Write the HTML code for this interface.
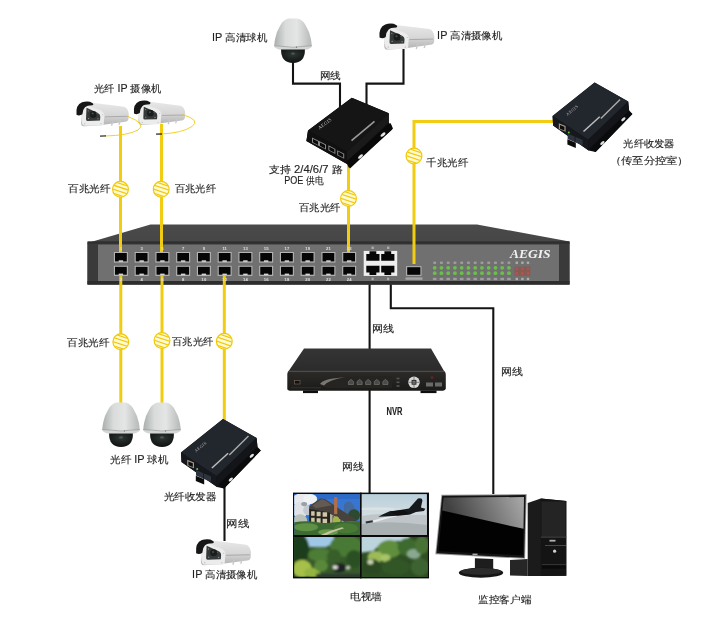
<!DOCTYPE html><html><head><meta charset="utf-8"><style>html,body{margin:0;padding:0;background:#fff;width:704px;height:618px;overflow:hidden}svg{display:block;font-family:"Liberation Sans",sans-serif;filter:blur(0.35px)}</style></head><body>
<svg width="704" height="618" viewBox="0 0 704 618">
<defs>
<linearGradient id="domeG" x1="0" y1="0" x2="1" y2="0"><stop offset="0" stop-color="#a9aead"/><stop offset="0.3" stop-color="#d9dcdb"/><stop offset="0.6" stop-color="#e4e6e5"/><stop offset="1" stop-color="#b4b8b7"/></linearGradient>
<radialGradient id="lensG" cx="0.5" cy="0.35" r="0.7"><stop offset="0" stop-color="#2e3634"/><stop offset="1" stop-color="#0c0f0e"/></radialGradient>
<linearGradient id="bulG" x1="0" y1="0" x2="0" y2="1"><stop offset="0" stop-color="#e9e9e9"/><stop offset="0.55" stop-color="#d6d6d6"/><stop offset="1" stop-color="#b0b0b0"/></linearGradient>
<linearGradient id="scrG" gradientUnits="userSpaceOnUse" x1="455" y1="522" x2="518" y2="494"><stop offset="0" stop-color="#404040"/><stop offset="1" stop-color="#a4a4a4"/></linearGradient>
<linearGradient id="nvrTop" x1="0" y1="0" x2="0" y2="1"><stop offset="0" stop-color="#353535"/><stop offset="1" stop-color="#2b2b2b"/></linearGradient>
<linearGradient id="nvrFront" x1="0" y1="0" x2="0" y2="1"><stop offset="0" stop-color="#2c2b28"/><stop offset="1" stop-color="#1a1a19"/></linearGradient>
<linearGradient id="skyG" x1="0" y1="0" x2="0" y2="1"><stop offset="0" stop-color="#b9d0dc"/><stop offset="0.55" stop-color="#d5dde0"/><stop offset="1" stop-color="#a9b0b3"/></linearGradient>
</defs>
<rect width="704" height="618" fill="#fff"/>
<g fill="none" stroke="#141414" stroke-width="2.1">
<path d="M293 58 V83.6 H340 V110"/><path d="M403.5 48 V83.6 H366.5 V110"/>
<path d="M369.6 282 V494"/><path d="M390.8 282 V308.3 H493.3 V494"/>
<path d="M224.5 480 V541"/>
</g>
<linearGradient id="swTop" x1="0" y1="0" x2="0" y2="1"><stop offset="0" stop-color="#4a4a4a"/><stop offset="1" stop-color="#3d3d3d"/></linearGradient>
<polygon points="87.5,243 150.5,224.5 477,224.5 569.5,241.5 569.5,284.5 87.5,284.5" fill="url(#swTop)"/>
<polygon points="87.5,242.3 569.5,242.3 569.5,284.5 87.5,284.5" fill="#3a3a3a"/>
<rect x="87.5" y="241.3" width="482" height="2.4" fill="#2f2f2f"/>
<rect x="98" y="244.5" width="461" height="36.5" fill="#6f706f"/>
<rect x="87.5" y="281" width="482" height="3.5" fill="#2d2d2d"/>
<g fill="none" stroke="#f2cc10" stroke-width="3">
<path d="M120.5 126 V253"/><path d="M161.5 124 V253"/><path d="M348.5 160 V253"/>
<path d="M554 121.5 H414 V264"/>
<path d="M120.8 275 V404"/><path d="M162 275 V404"/><path d="M224.3 275 V424"/>
</g>
<rect x="113.90" y="252" width="14" height="10.6" fill="#b4b4b4"/>
<rect x="115.00" y="253.0" width="11.8" height="8.399999999999999" fill="#060606"/>
<rect x="118.70" y="260.3" width="4.4" height="1.6" fill="#d4d4d4"/>
<rect x="113.90" y="265.8" width="14" height="10.1" fill="#b4b4b4"/>
<rect x="115.00" y="266.8" width="11.8" height="7.8999999999999995" fill="#060606"/>
<rect x="118.70" y="273.6" width="4.4" height="1.6" fill="#d4d4d4"/>
<text x="120.90" y="250" font-size="4.2" fill="#e0e0e0" text-anchor="middle" font-weight="bold">1</text>
<text x="120.90" y="280.6" font-size="4.2" fill="#e0e0e0" text-anchor="middle" font-weight="bold">2</text>
<rect x="134.65" y="252" width="14" height="10.6" fill="#b4b4b4"/>
<rect x="135.75" y="253.0" width="11.8" height="8.399999999999999" fill="#060606"/>
<rect x="139.45" y="260.3" width="4.4" height="1.6" fill="#d4d4d4"/>
<rect x="134.65" y="265.8" width="14" height="10.1" fill="#b4b4b4"/>
<rect x="135.75" y="266.8" width="11.8" height="7.8999999999999995" fill="#060606"/>
<rect x="139.45" y="273.6" width="4.4" height="1.6" fill="#d4d4d4"/>
<text x="141.65" y="250" font-size="4.2" fill="#e0e0e0" text-anchor="middle" font-weight="bold">3</text>
<text x="141.65" y="280.6" font-size="4.2" fill="#e0e0e0" text-anchor="middle" font-weight="bold">4</text>
<rect x="155.40" y="252" width="14" height="10.6" fill="#b4b4b4"/>
<rect x="156.50" y="253.0" width="11.8" height="8.399999999999999" fill="#060606"/>
<rect x="160.20" y="260.3" width="4.4" height="1.6" fill="#d4d4d4"/>
<rect x="155.40" y="265.8" width="14" height="10.1" fill="#b4b4b4"/>
<rect x="156.50" y="266.8" width="11.8" height="7.8999999999999995" fill="#060606"/>
<rect x="160.20" y="273.6" width="4.4" height="1.6" fill="#d4d4d4"/>
<text x="162.40" y="250" font-size="4.2" fill="#e0e0e0" text-anchor="middle" font-weight="bold">5</text>
<text x="162.40" y="280.6" font-size="4.2" fill="#e0e0e0" text-anchor="middle" font-weight="bold">6</text>
<rect x="176.15" y="252" width="14" height="10.6" fill="#b4b4b4"/>
<rect x="177.25" y="253.0" width="11.8" height="8.399999999999999" fill="#060606"/>
<rect x="180.95" y="260.3" width="4.4" height="1.6" fill="#d4d4d4"/>
<rect x="176.15" y="265.8" width="14" height="10.1" fill="#b4b4b4"/>
<rect x="177.25" y="266.8" width="11.8" height="7.8999999999999995" fill="#060606"/>
<rect x="180.95" y="273.6" width="4.4" height="1.6" fill="#d4d4d4"/>
<text x="183.15" y="250" font-size="4.2" fill="#e0e0e0" text-anchor="middle" font-weight="bold">7</text>
<text x="183.15" y="280.6" font-size="4.2" fill="#e0e0e0" text-anchor="middle" font-weight="bold">8</text>
<rect x="196.90" y="252" width="14" height="10.6" fill="#b4b4b4"/>
<rect x="198.00" y="253.0" width="11.8" height="8.399999999999999" fill="#060606"/>
<rect x="201.70" y="260.3" width="4.4" height="1.6" fill="#d4d4d4"/>
<rect x="196.90" y="265.8" width="14" height="10.1" fill="#b4b4b4"/>
<rect x="198.00" y="266.8" width="11.8" height="7.8999999999999995" fill="#060606"/>
<rect x="201.70" y="273.6" width="4.4" height="1.6" fill="#d4d4d4"/>
<text x="203.90" y="250" font-size="4.2" fill="#e0e0e0" text-anchor="middle" font-weight="bold">9</text>
<text x="203.90" y="280.6" font-size="4.2" fill="#e0e0e0" text-anchor="middle" font-weight="bold">10</text>
<rect x="217.65" y="252" width="14" height="10.6" fill="#b4b4b4"/>
<rect x="218.75" y="253.0" width="11.8" height="8.399999999999999" fill="#060606"/>
<rect x="222.45" y="260.3" width="4.4" height="1.6" fill="#d4d4d4"/>
<rect x="217.65" y="265.8" width="14" height="10.1" fill="#b4b4b4"/>
<rect x="218.75" y="266.8" width="11.8" height="7.8999999999999995" fill="#060606"/>
<rect x="222.45" y="273.6" width="4.4" height="1.6" fill="#d4d4d4"/>
<text x="224.65" y="250" font-size="4.2" fill="#e0e0e0" text-anchor="middle" font-weight="bold">11</text>
<text x="224.65" y="280.6" font-size="4.2" fill="#e0e0e0" text-anchor="middle" font-weight="bold">12</text>
<rect x="238.40" y="252" width="14" height="10.6" fill="#b4b4b4"/>
<rect x="239.50" y="253.0" width="11.8" height="8.399999999999999" fill="#060606"/>
<rect x="243.20" y="260.3" width="4.4" height="1.6" fill="#d4d4d4"/>
<rect x="238.40" y="265.8" width="14" height="10.1" fill="#b4b4b4"/>
<rect x="239.50" y="266.8" width="11.8" height="7.8999999999999995" fill="#060606"/>
<rect x="243.20" y="273.6" width="4.4" height="1.6" fill="#d4d4d4"/>
<text x="245.40" y="250" font-size="4.2" fill="#e0e0e0" text-anchor="middle" font-weight="bold">13</text>
<text x="245.40" y="280.6" font-size="4.2" fill="#e0e0e0" text-anchor="middle" font-weight="bold">14</text>
<rect x="259.15" y="252" width="14" height="10.6" fill="#b4b4b4"/>
<rect x="260.25" y="253.0" width="11.8" height="8.399999999999999" fill="#060606"/>
<rect x="263.95" y="260.3" width="4.4" height="1.6" fill="#d4d4d4"/>
<rect x="259.15" y="265.8" width="14" height="10.1" fill="#b4b4b4"/>
<rect x="260.25" y="266.8" width="11.8" height="7.8999999999999995" fill="#060606"/>
<rect x="263.95" y="273.6" width="4.4" height="1.6" fill="#d4d4d4"/>
<text x="266.15" y="250" font-size="4.2" fill="#e0e0e0" text-anchor="middle" font-weight="bold">15</text>
<text x="266.15" y="280.6" font-size="4.2" fill="#e0e0e0" text-anchor="middle" font-weight="bold">16</text>
<rect x="279.90" y="252" width="14" height="10.6" fill="#b4b4b4"/>
<rect x="281.00" y="253.0" width="11.8" height="8.399999999999999" fill="#060606"/>
<rect x="284.70" y="260.3" width="4.4" height="1.6" fill="#d4d4d4"/>
<rect x="279.90" y="265.8" width="14" height="10.1" fill="#b4b4b4"/>
<rect x="281.00" y="266.8" width="11.8" height="7.8999999999999995" fill="#060606"/>
<rect x="284.70" y="273.6" width="4.4" height="1.6" fill="#d4d4d4"/>
<text x="286.90" y="250" font-size="4.2" fill="#e0e0e0" text-anchor="middle" font-weight="bold">17</text>
<text x="286.90" y="280.6" font-size="4.2" fill="#e0e0e0" text-anchor="middle" font-weight="bold">18</text>
<rect x="300.65" y="252" width="14" height="10.6" fill="#b4b4b4"/>
<rect x="301.75" y="253.0" width="11.8" height="8.399999999999999" fill="#060606"/>
<rect x="305.45" y="260.3" width="4.4" height="1.6" fill="#d4d4d4"/>
<rect x="300.65" y="265.8" width="14" height="10.1" fill="#b4b4b4"/>
<rect x="301.75" y="266.8" width="11.8" height="7.8999999999999995" fill="#060606"/>
<rect x="305.45" y="273.6" width="4.4" height="1.6" fill="#d4d4d4"/>
<text x="307.65" y="250" font-size="4.2" fill="#e0e0e0" text-anchor="middle" font-weight="bold">19</text>
<text x="307.65" y="280.6" font-size="4.2" fill="#e0e0e0" text-anchor="middle" font-weight="bold">20</text>
<rect x="321.40" y="252" width="14" height="10.6" fill="#b4b4b4"/>
<rect x="322.50" y="253.0" width="11.8" height="8.399999999999999" fill="#060606"/>
<rect x="326.20" y="260.3" width="4.4" height="1.6" fill="#d4d4d4"/>
<rect x="321.40" y="265.8" width="14" height="10.1" fill="#b4b4b4"/>
<rect x="322.50" y="266.8" width="11.8" height="7.8999999999999995" fill="#060606"/>
<rect x="326.20" y="273.6" width="4.4" height="1.6" fill="#d4d4d4"/>
<text x="328.40" y="250" font-size="4.2" fill="#e0e0e0" text-anchor="middle" font-weight="bold">21</text>
<text x="328.40" y="280.6" font-size="4.2" fill="#e0e0e0" text-anchor="middle" font-weight="bold">22</text>
<rect x="342.15" y="252" width="14" height="10.6" fill="#b4b4b4"/>
<rect x="343.25" y="253.0" width="11.8" height="8.399999999999999" fill="#060606"/>
<rect x="346.95" y="260.3" width="4.4" height="1.6" fill="#d4d4d4"/>
<rect x="342.15" y="265.8" width="14" height="10.1" fill="#b4b4b4"/>
<rect x="343.25" y="266.8" width="11.8" height="7.8999999999999995" fill="#060606"/>
<rect x="346.95" y="273.6" width="4.4" height="1.6" fill="#d4d4d4"/>
<text x="349.15" y="250" font-size="4.2" fill="#e0e0e0" text-anchor="middle" font-weight="bold">23</text>
<text x="349.15" y="280.6" font-size="4.2" fill="#e0e0e0" text-anchor="middle" font-weight="bold">24</text>
<rect x="363.7" y="250.9" width="33.5" height="25" fill="#eeeeee"/>
<path d="M366.3 253.9 H369.5 V251.3 H376.3 V253.9 H379.5 V260.7 H366.3 Z" fill="#070707"/>
<path d="M381.2 253.9 H384.4 V251.3 H391.2 V253.9 H394.4 V260.7 H381.2 Z" fill="#070707"/>
<path d="M366.3 265.7 H379.5 V272.49999999999994 H376.3 V275.09999999999997 H369.5 V272.49999999999994 H366.3 Z" fill="#070707"/>
<path d="M381.2 265.7 H394.4 V272.49999999999994 H391.2 V275.09999999999997 H384.4 V272.49999999999994 H381.2 Z" fill="#070707"/>
<rect x="371.5" y="246.6" width="2.4" height="2.4" fill="#d0d0d0" opacity="0.6"/><rect x="387" y="246.6" width="2.4" height="2.4" fill="#d0d0d0" opacity="0.6"/>
<rect x="371.5" y="277.6" width="2.2" height="2.6" fill="#d0d0d0" opacity="0.6"/><rect x="387" y="277.6" width="2.2" height="2.6" fill="#d0d0d0" opacity="0.6"/>
<rect x="406.1" y="266.2" width="15.4" height="9.6" fill="#b4b4b4"/><rect x="407.2" y="267.2" width="13.2" height="7.6" fill="#060606"/>
<rect x="405.5" y="277.4" width="17" height="2.4" fill="#d0d0d0" opacity="0.55"/>
<circle cx="434.70" cy="267.8" r="1.9" fill="#6cbf4c"/><circle cx="434.70" cy="273.2" r="1.9" fill="#6cbf4c"/>
<rect x="433.30" y="261.6" width="2.8" height="2.3" fill="#d8d8d8" opacity="0.45"/>
<rect x="432.90" y="277.8" width="3.6" height="2.3" fill="#d8d8d8" opacity="0.45"/>
<circle cx="441.45" cy="267.8" r="1.9" fill="#6cbf4c"/><circle cx="441.45" cy="273.2" r="1.9" fill="#6cbf4c"/>
<rect x="440.05" y="261.6" width="2.8" height="2.3" fill="#d8d8d8" opacity="0.45"/>
<rect x="439.65" y="277.8" width="3.6" height="2.3" fill="#d8d8d8" opacity="0.45"/>
<circle cx="448.20" cy="267.8" r="1.9" fill="#6cbf4c"/><circle cx="448.20" cy="273.2" r="1.9" fill="#6cbf4c"/>
<rect x="446.80" y="261.6" width="2.8" height="2.3" fill="#d8d8d8" opacity="0.45"/>
<rect x="446.40" y="277.8" width="3.6" height="2.3" fill="#d8d8d8" opacity="0.45"/>
<circle cx="454.95" cy="267.8" r="1.9" fill="#6cbf4c"/><circle cx="454.95" cy="273.2" r="1.9" fill="#6cbf4c"/>
<rect x="453.55" y="261.6" width="2.8" height="2.3" fill="#d8d8d8" opacity="0.45"/>
<rect x="453.15" y="277.8" width="3.6" height="2.3" fill="#d8d8d8" opacity="0.45"/>
<circle cx="461.70" cy="267.8" r="1.9" fill="#6cbf4c"/><circle cx="461.70" cy="273.2" r="1.9" fill="#6cbf4c"/>
<rect x="460.30" y="261.6" width="2.8" height="2.3" fill="#d8d8d8" opacity="0.45"/>
<rect x="459.90" y="277.8" width="3.6" height="2.3" fill="#d8d8d8" opacity="0.45"/>
<circle cx="468.45" cy="267.8" r="1.9" fill="#6cbf4c"/><circle cx="468.45" cy="273.2" r="1.9" fill="#6cbf4c"/>
<rect x="467.05" y="261.6" width="2.8" height="2.3" fill="#d8d8d8" opacity="0.45"/>
<rect x="466.65" y="277.8" width="3.6" height="2.3" fill="#d8d8d8" opacity="0.45"/>
<circle cx="475.20" cy="267.8" r="1.9" fill="#6cbf4c"/><circle cx="475.20" cy="273.2" r="1.9" fill="#6cbf4c"/>
<rect x="473.80" y="261.6" width="2.8" height="2.3" fill="#d8d8d8" opacity="0.45"/>
<rect x="473.40" y="277.8" width="3.6" height="2.3" fill="#d8d8d8" opacity="0.45"/>
<circle cx="481.95" cy="267.8" r="1.9" fill="#6cbf4c"/><circle cx="481.95" cy="273.2" r="1.9" fill="#6cbf4c"/>
<rect x="480.55" y="261.6" width="2.8" height="2.3" fill="#d8d8d8" opacity="0.45"/>
<rect x="480.15" y="277.8" width="3.6" height="2.3" fill="#d8d8d8" opacity="0.45"/>
<circle cx="488.70" cy="267.8" r="1.9" fill="#6cbf4c"/><circle cx="488.70" cy="273.2" r="1.9" fill="#6cbf4c"/>
<rect x="487.30" y="261.6" width="2.8" height="2.3" fill="#d8d8d8" opacity="0.45"/>
<rect x="486.90" y="277.8" width="3.6" height="2.3" fill="#d8d8d8" opacity="0.45"/>
<circle cx="495.45" cy="267.8" r="1.9" fill="#6cbf4c"/><circle cx="495.45" cy="273.2" r="1.9" fill="#6cbf4c"/>
<rect x="494.05" y="261.6" width="2.8" height="2.3" fill="#d8d8d8" opacity="0.45"/>
<rect x="493.65" y="277.8" width="3.6" height="2.3" fill="#d8d8d8" opacity="0.45"/>
<circle cx="502.20" cy="267.8" r="1.9" fill="#6cbf4c"/><circle cx="502.20" cy="273.2" r="1.9" fill="#6cbf4c"/>
<rect x="500.80" y="261.6" width="2.8" height="2.3" fill="#d8d8d8" opacity="0.45"/>
<rect x="500.40" y="277.8" width="3.6" height="2.3" fill="#d8d8d8" opacity="0.45"/>
<circle cx="508.95" cy="267.8" r="1.9" fill="#6cbf4c"/><circle cx="508.95" cy="273.2" r="1.9" fill="#6cbf4c"/>
<rect x="507.55" y="261.6" width="2.8" height="2.3" fill="#d8d8d8" opacity="0.45"/>
<rect x="507.15" y="277.8" width="3.6" height="2.3" fill="#d8d8d8" opacity="0.45"/>
<rect x="514.5" y="266.8" width="15.8" height="8.8" fill="#875a54"/>
<circle cx="516.80" cy="268.8" r="1.4" fill="#b4554c"/><circle cx="516.80" cy="273.4" r="1.4" fill="#b4554c"/>
<rect x="515.60" y="261.6" width="2.4" height="2.3" fill="#d8d8d8" opacity="0.6"/><rect x="515.60" y="277.8" width="2.4" height="2.3" fill="#d8d8d8" opacity="0.6"/>
<circle cx="522.40" cy="268.8" r="1.4" fill="#b4554c"/><circle cx="522.40" cy="273.4" r="1.4" fill="#b4554c"/>
<rect x="521.20" y="261.6" width="2.4" height="2.3" fill="#d8d8d8" opacity="0.6"/><rect x="521.20" y="277.8" width="2.4" height="2.3" fill="#d8d8d8" opacity="0.6"/>
<circle cx="528.00" cy="268.8" r="1.4" fill="#b4554c"/><circle cx="528.00" cy="273.4" r="1.4" fill="#b4554c"/>
<rect x="526.80" y="261.6" width="2.4" height="2.3" fill="#d8d8d8" opacity="0.6"/><rect x="526.80" y="277.8" width="2.4" height="2.3" fill="#d8d8d8" opacity="0.6"/>
<text x="510" y="258" font-family="Liberation Serif" font-style="italic" font-weight="bold" font-size="12.5" fill="#f2f2f2" textLength="40.5" lengthAdjust="spacingAndGlyphs">AEGIS</text>
<g transform="translate(120.5,189.3)"><circle r="7.9" fill="#fffad2" stroke="#f0c808" stroke-width="1.2"/><clipPath id="fc1"><circle r="7.4"/></clipPath><g clip-path="url(#fc1)" stroke="#f0c808" stroke-width="1.2" fill="none"><path d="M-9 -8.6 L9 -2.5999999999999996"/><path d="M-9 -4.8 L9 1.2"/><path d="M-9 -0.6000000000000001 L9 5.4"/><path d="M-9 3.4000000000000004 L9 9.4"/></g></g>
<g transform="translate(161.2,189.3)"><circle r="7.9" fill="#fffad2" stroke="#f0c808" stroke-width="1.2"/><clipPath id="fc2"><circle r="7.4"/></clipPath><g clip-path="url(#fc2)" stroke="#f0c808" stroke-width="1.2" fill="none"><path d="M-9 -8.6 L9 -2.5999999999999996"/><path d="M-9 -4.8 L9 1.2"/><path d="M-9 -0.6000000000000001 L9 5.4"/><path d="M-9 3.4000000000000004 L9 9.4"/></g></g>
<g transform="translate(348.5,198.5)"><circle r="7.9" fill="#fffad2" stroke="#f0c808" stroke-width="1.2"/><clipPath id="fc3"><circle r="7.4"/></clipPath><g clip-path="url(#fc3)" stroke="#f0c808" stroke-width="1.2" fill="none"><path d="M-9 -8.6 L9 -2.5999999999999996"/><path d="M-9 -4.8 L9 1.2"/><path d="M-9 -0.6000000000000001 L9 5.4"/><path d="M-9 3.4000000000000004 L9 9.4"/></g></g>
<g transform="translate(414,156)"><circle r="7.9" fill="#fffad2" stroke="#f0c808" stroke-width="1.2"/><clipPath id="fc4"><circle r="7.4"/></clipPath><g clip-path="url(#fc4)" stroke="#f0c808" stroke-width="1.2" fill="none"><path d="M-9 -8.6 L9 -2.5999999999999996"/><path d="M-9 -4.8 L9 1.2"/><path d="M-9 -0.6000000000000001 L9 5.4"/><path d="M-9 3.4000000000000004 L9 9.4"/></g></g>
<g transform="translate(120.8,341.8)"><circle r="7.9" fill="#fffad2" stroke="#f0c808" stroke-width="1.2"/><clipPath id="fc5"><circle r="7.4"/></clipPath><g clip-path="url(#fc5)" stroke="#f0c808" stroke-width="1.2" fill="none"><path d="M-9 -8.6 L9 -2.5999999999999996"/><path d="M-9 -4.8 L9 1.2"/><path d="M-9 -0.6000000000000001 L9 5.4"/><path d="M-9 3.4000000000000004 L9 9.4"/></g></g>
<g transform="translate(162,340.5)"><circle r="7.9" fill="#fffad2" stroke="#f0c808" stroke-width="1.2"/><clipPath id="fc6"><circle r="7.4"/></clipPath><g clip-path="url(#fc6)" stroke="#f0c808" stroke-width="1.2" fill="none"><path d="M-9 -8.6 L9 -2.5999999999999996"/><path d="M-9 -4.8 L9 1.2"/><path d="M-9 -0.6000000000000001 L9 5.4"/><path d="M-9 3.4000000000000004 L9 9.4"/></g></g>
<g transform="translate(224.3,341.3)"><circle r="7.9" fill="#fffad2" stroke="#f0c808" stroke-width="1.2"/><clipPath id="fc7"><circle r="7.4"/></clipPath><g clip-path="url(#fc7)" stroke="#f0c808" stroke-width="1.2" fill="none"><path d="M-9 -8.6 L9 -2.5999999999999996"/><path d="M-9 -4.8 L9 1.2"/><path d="M-9 -0.6000000000000001 L9 5.4"/><path d="M-9 3.4000000000000004 L9 9.4"/></g></g>
<g transform="translate(76,100.8) scale(1.0)"><path d="M10 1 L16.5 2 L48 6 Q52.5 7.5 52.8 14 L52.5 18 Q52 20.8 49 21 L22 24.6 L8 25.5 Q5 25.5 5 22 L5.5 10 Z" fill="url(#bulG)"/><path d="M29 16 L51.7 15.5" stroke="#9a9a9a" stroke-width="0.7"/><path d="M37 20 L35.5 25 M44.5 19 L43 24" stroke="#c8c8c8" stroke-width="1.3"/><path d="M8 5 Q9 4.2 10.5 4.5 L23 9 Q28.3 11 28.3 14.5 L27.8 23 Q27.5 25 25.5 25 L9 25 Q6.5 25 6 22.5 L5 16 Q5 8 8 5 Z" fill="#ececec"/><path d="M10.5 7 L21.5 12 Q24.5 13.5 24.3 16 L24 19.8 L11.4 20.2 Q10 20.2 10 18.5 Z" fill="#363939"/><circle cx="17.2" cy="13.6" r="3.4" fill="#1b1d1d"/><circle cx="16.6" cy="12.8" r="1" fill="#4a5050"/><circle cx="12.2" cy="10" r="0.6" fill="#8a8a8a"/><circle cx="12.5" cy="17.8" r="0.6" fill="#9a9a9a"/><circle cx="22" cy="18" r="0.6" fill="#9a9a9a"/><circle cx="21" cy="13" r="0.5" fill="#777"/><circle cx="8.8" cy="23" r="0.5" fill="#999"/><circle cx="25" cy="23" r="0.5" fill="#999"/><circle cx="26.8" cy="14" r="0.5" fill="#aaa"/><path d="M0.5 14 Q-0.5 4 6 1.5 Q10 0.2 14 1 L17 2.6 Q18 3.8 16.5 4.5 Q11 4.5 9 6.5 Q6.5 9 6.4 13.5 Q3.5 15.5 0.5 14 Z" fill="#161616"/></g>
<g transform="translate(133.5,99.8) scale(0.98)"><path d="M10 1 L16.5 2 L48 6 Q52.5 7.5 52.8 14 L52.5 18 Q52 20.8 49 21 L22 24.6 L8 25.5 Q5 25.5 5 22 L5.5 10 Z" fill="url(#bulG)"/><path d="M29 16 L51.7 15.5" stroke="#9a9a9a" stroke-width="0.7"/><path d="M37 20 L35.5 25 M44.5 19 L43 24" stroke="#c8c8c8" stroke-width="1.3"/><path d="M8 5 Q9 4.2 10.5 4.5 L23 9 Q28.3 11 28.3 14.5 L27.8 23 Q27.5 25 25.5 25 L9 25 Q6.5 25 6 22.5 L5 16 Q5 8 8 5 Z" fill="#ececec"/><path d="M10.5 7 L21.5 12 Q24.5 13.5 24.3 16 L24 19.8 L11.4 20.2 Q10 20.2 10 18.5 Z" fill="#363939"/><circle cx="17.2" cy="13.6" r="3.4" fill="#1b1d1d"/><circle cx="16.6" cy="12.8" r="1" fill="#4a5050"/><circle cx="12.2" cy="10" r="0.6" fill="#8a8a8a"/><circle cx="12.5" cy="17.8" r="0.6" fill="#9a9a9a"/><circle cx="22" cy="18" r="0.6" fill="#9a9a9a"/><circle cx="21" cy="13" r="0.5" fill="#777"/><circle cx="8.8" cy="23" r="0.5" fill="#999"/><circle cx="25" cy="23" r="0.5" fill="#999"/><circle cx="26.8" cy="14" r="0.5" fill="#aaa"/><path d="M0.5 14 Q-0.5 4 6 1.5 Q10 0.2 14 1 L17 2.6 Q18 3.8 16.5 4.5 Q11 4.5 9 6.5 Q6.5 9 6.4 13.5 Q3.5 15.5 0.5 14 Z" fill="#161616"/></g>
<path d="M128 116.5 Q147 124 138 130 Q128 135.5 105 136" fill="none" stroke="#f2cc10" stroke-width="0.9"/>
<path d="M182.5 114.6 Q201 120 192 126.5 Q182 133 161 134" fill="none" stroke="#f2cc10" stroke-width="0.9"/>
<path d="M100 136.2 L106 135.9" stroke="#333" stroke-width="1.3"/><path d="M156 134.2 L162 134" stroke="#333" stroke-width="1.3"/>
<g transform="translate(379,22.8) scale(1.05)"><path d="M10 1 L16.5 2 L48 6 Q52.5 7.5 52.8 14 L52.5 18 Q52 20.8 49 21 L22 24.6 L8 25.5 Q5 25.5 5 22 L5.5 10 Z" fill="url(#bulG)"/><path d="M29 16 L51.7 15.5" stroke="#9a9a9a" stroke-width="0.7"/><path d="M37 20 L35.5 25 M44.5 19 L43 24" stroke="#c8c8c8" stroke-width="1.3"/><path d="M8 5 Q9 4.2 10.5 4.5 L23 9 Q28.3 11 28.3 14.5 L27.8 23 Q27.5 25 25.5 25 L9 25 Q6.5 25 6 22.5 L5 16 Q5 8 8 5 Z" fill="#ececec"/><path d="M10.5 7 L21.5 12 Q24.5 13.5 24.3 16 L24 19.8 L11.4 20.2 Q10 20.2 10 18.5 Z" fill="#363939"/><circle cx="17.2" cy="13.6" r="3.4" fill="#1b1d1d"/><circle cx="16.6" cy="12.8" r="1" fill="#4a5050"/><circle cx="12.2" cy="10" r="0.6" fill="#8a8a8a"/><circle cx="12.5" cy="17.8" r="0.6" fill="#9a9a9a"/><circle cx="22" cy="18" r="0.6" fill="#9a9a9a"/><circle cx="21" cy="13" r="0.5" fill="#777"/><circle cx="8.8" cy="23" r="0.5" fill="#999"/><circle cx="25" cy="23" r="0.5" fill="#999"/><circle cx="26.8" cy="14" r="0.5" fill="#aaa"/><path d="M0.5 14 Q-0.5 4 6 1.5 Q10 0.2 14 1 L17 2.6 Q18 3.8 16.5 4.5 Q11 4.5 9 6.5 Q6.5 9 6.4 13.5 Q3.5 15.5 0.5 14 Z" fill="#161616"/></g>
<g transform="translate(195.6,538.5) scale(1.05)"><path d="M10 1 L16.5 2 L48 6 Q52.5 7.5 52.8 14 L52.5 18 Q52 20.8 49 21 L22 24.6 L8 25.5 Q5 25.5 5 22 L5.5 10 Z" fill="url(#bulG)"/><path d="M29 16 L51.7 15.5" stroke="#9a9a9a" stroke-width="0.7"/><path d="M37 20 L35.5 25 M44.5 19 L43 24" stroke="#c8c8c8" stroke-width="1.3"/><path d="M8 5 Q9 4.2 10.5 4.5 L23 9 Q28.3 11 28.3 14.5 L27.8 23 Q27.5 25 25.5 25 L9 25 Q6.5 25 6 22.5 L5 16 Q5 8 8 5 Z" fill="#ececec"/><path d="M10.5 7 L21.5 12 Q24.5 13.5 24.3 16 L24 19.8 L11.4 20.2 Q10 20.2 10 18.5 Z" fill="#363939"/><circle cx="17.2" cy="13.6" r="3.4" fill="#1b1d1d"/><circle cx="16.6" cy="12.8" r="1" fill="#4a5050"/><circle cx="12.2" cy="10" r="0.6" fill="#8a8a8a"/><circle cx="12.5" cy="17.8" r="0.6" fill="#9a9a9a"/><circle cx="22" cy="18" r="0.6" fill="#9a9a9a"/><circle cx="21" cy="13" r="0.5" fill="#777"/><circle cx="8.8" cy="23" r="0.5" fill="#999"/><circle cx="25" cy="23" r="0.5" fill="#999"/><circle cx="26.8" cy="14" r="0.5" fill="#aaa"/><path d="M0.5 14 Q-0.5 4 6 1.5 Q10 0.2 14 1 L17 2.6 Q18 3.8 16.5 4.5 Q11 4.5 9 6.5 Q6.5 9 6.4 13.5 Q3.5 15.5 0.5 14 Z" fill="#161616"/></g>
<g transform="translate(293,18.6) scale(1.0)"><path d="M-4.3 0 L4.3 0 Q9.5 1.2 12.5 6.5 Q16.5 13 17.8 20 Q18.6 24 18.8 27.5 L-18.8 27.5 Q-18.6 24 -17.8 20 Q-16.5 13 -12.5 6.5 Q-9.5 1.2 -4.3 0 Z" fill="url(#domeG)"/><path d="M-18.8 27 Q0 29.5 18.8 27 L18.3 28.8 Q15 30.8 12 31.3 L-12 31.3 Q-15 30.8 -18.3 28.8 Z" fill="#d4d6d5"/><path d="M-18.8 27.2 Q0 29.8 18.8 27.2" fill="none" stroke="#8f9392" stroke-width="0.7"/><circle cx="3.5" cy="28.6" r="0.6" fill="#666"/><path d="M-11.9 31 L11.9 31 Q12.2 44.2 0 44.5 Q-12.2 44.2 -11.9 31 Z" fill="url(#lensG)"/><ellipse cx="0" cy="35" rx="2" ry="1.2" fill="#4d5553"/></g>
<g transform="translate(121,402.4) scale(1.0)"><path d="M-4.3 0 L4.3 0 Q9.5 1.2 12.5 6.5 Q16.5 13 17.8 20 Q18.6 24 18.8 27.5 L-18.8 27.5 Q-18.6 24 -17.8 20 Q-16.5 13 -12.5 6.5 Q-9.5 1.2 -4.3 0 Z" fill="url(#domeG)"/><path d="M-18.8 27 Q0 29.5 18.8 27 L18.3 28.8 Q15 30.8 12 31.3 L-12 31.3 Q-15 30.8 -18.3 28.8 Z" fill="#d4d6d5"/><path d="M-18.8 27.2 Q0 29.8 18.8 27.2" fill="none" stroke="#8f9392" stroke-width="0.7"/><circle cx="3.5" cy="28.6" r="0.6" fill="#666"/><path d="M-11.9 31 L11.9 31 Q12.2 44.2 0 44.5 Q-12.2 44.2 -11.9 31 Z" fill="url(#lensG)"/><ellipse cx="0" cy="35" rx="2" ry="1.2" fill="#4d5553"/></g>
<g transform="translate(162,402.4) scale(1.0)"><path d="M-4.3 0 L4.3 0 Q9.5 1.2 12.5 6.5 Q16.5 13 17.8 20 Q18.6 24 18.8 27.5 L-18.8 27.5 Q-18.6 24 -17.8 20 Q-16.5 13 -12.5 6.5 Q-9.5 1.2 -4.3 0 Z" fill="url(#domeG)"/><path d="M-18.8 27 Q0 29.5 18.8 27 L18.3 28.8 Q15 30.8 12 31.3 L-12 31.3 Q-15 30.8 -18.3 28.8 Z" fill="#d4d6d5"/><path d="M-18.8 27.2 Q0 29.8 18.8 27.2" fill="none" stroke="#8f9392" stroke-width="0.7"/><circle cx="3.5" cy="28.6" r="0.6" fill="#666"/><path d="M-11.9 31 L11.9 31 Q12.2 44.2 0 44.5 Q-12.2 44.2 -11.9 31 Z" fill="url(#lensG)"/><ellipse cx="0" cy="35" rx="2" ry="1.2" fill="#4d5553"/></g>
<polygon points="306.4,141 308,130.4 351.8,97.7 388.8,113.3 388.8,122.5 391.6,126 392.2,129.6 349,168 347,164" fill="#0c0c0c"/>
<polygon points="308,130.4 351.8,97.7 388.8,113.3 347,152" fill="#151515"/>
<polygon points="308,130.4 347,152 347,164 306.4,141" fill="#101010"/>
<polygon points="347,152 388.8,113.3 388.8,122.5 347,162" fill="#1a1a1a"/>
<polygon points="347,161 390.5,123 393,128.5 350,168.5" fill="#090909"/>
<ellipse cx="383" cy="134.6" rx="3" ry="1.4" transform="rotate(-38 383 134.6)" fill="#e6e6e6"/>
<ellipse cx="360.5" cy="156.5" rx="3" ry="1.4" transform="rotate(-40 360.5 156.5)" fill="#e6e6e6"/>
<polygon points="312,137.5 319,141.1 319,146.1 312,142.5" fill="#8a8a8a"/>
<polygon points="313,138.9 318,141.5 318,144.9 313,142.3" fill="#0a0a0a"/>
<polygon points="319,141 326,144.6 326,149.6 319,146" fill="#8a8a8a"/>
<polygon points="320,142.4 325,145 325,148.4 320,145.8" fill="#0a0a0a"/>
<polygon points="328.4,145.3 335.4,148.9 335.4,153.9 328.4,150.3" fill="#8a8a8a"/>
<polygon points="329.4,146.70000000000002 334.4,149.3 334.4,152.70000000000002 329.4,150.10000000000002" fill="#0a0a0a"/>
<polygon points="337.2,150.2 344.2,153.79999999999998 344.2,158.79999999999998 337.2,155.2" fill="#8a8a8a"/>
<polygon points="338.2,151.6 343.2,154.2 343.2,157.6 338.2,155.0" fill="#0a0a0a"/>
<text x="0" y="0" font-size="4.6" fill="#cfcfcf" transform="translate(319.5 129.5) rotate(-37)" font-family="Liberation Serif" letter-spacing="0.5">AEGIS</text>
<rect x="0" y="0" width="30" height="1.6" fill="#bdbdbd" opacity="0.8" transform="translate(351 140) rotate(-40)"/>
<g transform="translate(181,419)"><polygon points="0,33.5 42,0 75.6,18.9 76.6,29 79.8,31.5 43,69.4 36,68 0.5,43" fill="#0e1013"/><polygon points="0,33.5 42,0 75.6,18.9 35.6,57.3" fill="#22262d"/><polygon points="0,33.5 35.6,57.3 36,68 0.5,43" fill="#16181d"/><polygon points="35.6,57.3 75.6,18.9 76.6,29 36,68" fill="#131519"/><polygon points="37,66 76.6,28 79.8,31.5 43,69.4" fill="#0a0b0c"/><ellipse cx="70.8" cy="36.8" rx="2.6" ry="1.3" transform="rotate(-42 70.8 36.8)" fill="#e2e2e2"/><ellipse cx="49.8" cy="60.5" rx="2.6" ry="1.3" transform="rotate(-42 49.8 60.5)" fill="#e2e2e2"/><polygon points="6.2,40.8 13,43.6 13,49.2 6.2,46.4" fill="#a39a84"/><polygon points="7.4,42.4 11.8,44.2 11.8,48 7.4,46.2" fill="#0c0c0c"/><circle cx="16.2" cy="50" r="1" fill="#5ad040"/><polygon points="15,51 30,57.5 30,63 15,56.5" fill="#2e343d"/><path d="M22.5 54.2 V59.8" stroke="#15181c" stroke-width="0.8"/><polygon points="14.8,56.8 23.2,60.2 23.2,65.4 14.8,62" fill="#0b0b0c"/><rect x="0" y="0" width="22" height="1.5" fill="#bdbdbd" transform="translate(30.4 48.5) rotate(-42.5)"/><rect x="0" y="0" width="27" height="1.4" fill="#acacac" transform="translate(47.8 35.5) rotate(-44.7)"/><text x="0" y="0" font-size="4.2" fill="#b4b4b4" transform="translate(15 33.5) rotate(-40)" font-family="Liberation Serif" letter-spacing="0.4">AEGIS</text></g>
<g transform="translate(552.6,82.5)"><polygon points="0,33.5 42,0 75.6,18.9 76.6,29 79.8,31.5 43,69.4 36,68 0.5,43" fill="#0e1013"/><polygon points="0,33.5 42,0 75.6,18.9 35.6,57.3" fill="#22262d"/><polygon points="0,33.5 35.6,57.3 36,68 0.5,43" fill="#16181d"/><polygon points="35.6,57.3 75.6,18.9 76.6,29 36,68" fill="#131519"/><polygon points="37,66 76.6,28 79.8,31.5 43,69.4" fill="#0a0b0c"/><ellipse cx="70.8" cy="36.8" rx="2.6" ry="1.3" transform="rotate(-42 70.8 36.8)" fill="#e2e2e2"/><ellipse cx="49.8" cy="60.5" rx="2.6" ry="1.3" transform="rotate(-42 49.8 60.5)" fill="#e2e2e2"/><polygon points="6.2,40.8 13,43.6 13,49.2 6.2,46.4" fill="#a39a84"/><polygon points="7.4,42.4 11.8,44.2 11.8,48 7.4,46.2" fill="#0c0c0c"/><circle cx="16.2" cy="50" r="1" fill="#5ad040"/><polygon points="15,51 30,57.5 30,63 15,56.5" fill="#2e343d"/><path d="M22.5 54.2 V59.8" stroke="#15181c" stroke-width="0.8"/><polygon points="14.8,56.8 23.2,60.2 23.2,65.4 14.8,62" fill="#0b0b0c"/><rect x="0" y="0" width="22" height="1.5" fill="#bdbdbd" transform="translate(30.4 48.5) rotate(-42.5)"/><rect x="0" y="0" width="27" height="1.4" fill="#acacac" transform="translate(47.8 35.5) rotate(-44.7)"/><text x="0" y="0" font-size="4.2" fill="#b4b4b4" transform="translate(15 33.5) rotate(-40)" font-family="Liberation Serif" letter-spacing="0.4">AEGIS</text></g>
<polygon points="304,348.5 431,348.5 444.2,371.2 288.5,371.2" fill="url(#nvrTop)"/>
<path d="M288.5 371 H444.2 Q445.8 372 445.8 374.5 V388.6 Q445.5 390.7 443 390.7 H290 Q287.3 390.7 287.3 388.6 V374.5 Q287.3 372 288.5 371 Z" fill="url(#nvrFront)"/>
<rect x="288.5" y="370.8" width="155.7" height="1" fill="#555"/>
<rect x="303" y="390.5" width="15" height="2.6" fill="#0e0e0e"/><rect x="420.5" y="390.5" width="16" height="2.6" fill="#0e0e0e"/>
<path d="M320 384 Q324 376.5 392 376 L392 388 L330 388 Q321 387.5 320 384 Z" fill="#252422"/>
<path d="M320 384 Q323 378.5 345 377.2 Q328 380 324 385.5 Z" fill="#7a7770"/>
<rect x="294.5" y="380.5" width="5.5" height="3.5" fill="#111" stroke="#7a6a55" stroke-width="0.6"/>
<rect x="291" y="387.5" width="30" height="0.7" fill="#3a3a3a"/>
<path d="M348.4 384.5 V381.6 L351.0 379.4 L353.6 381.6 V384.5 Z" fill="#4a4a48" stroke="#8a8a86" stroke-width="0.5"/>
<path d="M357.0 384.5 V381.6 L359.6 379.4 L362.20000000000005 381.6 V384.5 Z" fill="#4a4a48" stroke="#8a8a86" stroke-width="0.5"/>
<path d="M365.59999999999997 384.5 V381.6 L368.2 379.4 L370.8 381.6 V384.5 Z" fill="#4a4a48" stroke="#8a8a86" stroke-width="0.5"/>
<path d="M374.2 384.5 V381.6 L376.8 379.4 L379.40000000000003 381.6 V384.5 Z" fill="#4a4a48" stroke="#8a8a86" stroke-width="0.5"/>
<path d="M382.79999999999995 384.5 V381.6 L385.4 379.4 L388.0 381.6 V384.5 Z" fill="#4a4a48" stroke="#8a8a86" stroke-width="0.5"/>
<rect x="396.5" y="377.7" width="3" height="1.6" fill="#555"/>
<rect x="396.5" y="381.5" width="3" height="1.6" fill="#555"/>
<rect x="396.5" y="385.2" width="3" height="1.6" fill="#555"/>
<circle cx="414" cy="382.3" r="5.8" fill="#d8d8d8"/><rect x="411.6" y="379.9" width="4.8" height="4.8" fill="#2a2a2a"/><rect x="412.6" y="380.9" width="2.8" height="2.8" fill="#9a9a9a"/>
<path d="M408.2 382.3 H419.8 M414 376.5 V388.1" stroke="#444" stroke-width="0.6"/>
<rect x="426" y="382.5" width="7" height="4" fill="#6a6a6a"/><rect x="435" y="382.5" width="7" height="4" fill="#6a6a6a"/>
<circle cx="432" cy="377.5" r="1.6" fill="#5a2525"/>
<rect x="293" y="492.6" width="136" height="85.8" fill="#0b0b0b"/>
<svg x="294.2" y="494.1" width="65.8" height="41.1" viewBox="0 0 66 41" preserveAspectRatio="none"><defs><filter id="bl0" x="-5%" y="-5%" width="110%" height="110%"><feGaussianBlur stdDeviation="0.6"/></filter></defs><rect width="66" height="41" fill="#3676d2"/><g filter="url(#bl0)"><rect x="0" y="0" width="66" height="5" fill="#2e6ac8"/><path d="M50 10 Q56 4 60 12 Q64 18 62 26 L50 26 Z" fill="#4a6486" opacity="0.7"/><ellipse cx="60" cy="21" rx="6" ry="6" fill="#2e4a30"/><ellipse cx="8" cy="6" rx="10" ry="7" fill="#e8eaee"/><ellipse cx="16" cy="5" rx="7" ry="5" fill="#f0f2f4"/><ellipse cx="6" cy="16" rx="8" ry="8" fill="#dfe2e6"/><ellipse cx="14" cy="16" rx="5" ry="5" fill="#c4cad0"/><ellipse cx="6" cy="26" rx="7" ry="6" fill="#b8c0b8"/><ellipse cx="10" cy="10" rx="3" ry="2" fill="#9aa0a8"/><polygon points="15,12 26,4.5 31,5 46,15 63,26 50,27.5 36,19.5 15,15" fill="#46423d"/><polygon points="18,11.5 27,5.2 30,5.5 38,11 22,14" fill="#625a52"/><polygon points="15,14.5 36,18.5 36,30 15,30" fill="#26221e"/><path d="M17 17 H20.5 V21.5 H17 Z M22.5 17.5 H26.5 V22 H22.5 Z M28.5 18 H33 V22.5 H28.5 Z M17 23.5 H20.5 V29 H17 Z M22.5 24 H26.5 V29 H22.5 Z M28.5 24.5 H33 V29 H28.5 Z" fill="#cfc7a8"/><polygon points="36,19.5 50,27.5 50,30 36,30" fill="#b8b094"/><path d="M39 21.5 V30 M43 23.5 V30 M47 25.5 V30" stroke="#34302a" stroke-width="1"/><rect x="40" y="3" width="3.2" height="17" fill="#b06e48"/><ellipse cx="42" cy="27" rx="3.5" ry="5" fill="#a4b444"/><path d="M0 28 Q14 26 30 29 Q46 27 66 27 V41 H0 Z" fill="#3e6a32"/><ellipse cx="12" cy="33" rx="12" ry="4" fill="#5e9044"/><ellipse cx="52" cy="34" rx="12" ry="5" fill="#4a7a36"/><ellipse cx="34" cy="38" rx="10" ry="3" fill="#6a9a4a"/><path d="M26 41 Q36 36 48 33 L50 34 Q40 37 32 41 Z" fill="#c8c2a4"/></g></svg>
<svg x="361.3" y="494.1" width="65.6" height="40.8" viewBox="0 0 66 41" preserveAspectRatio="none"><defs><filter id="bl3" x="-5%" y="-5%" width="110%" height="110%"><feGaussianBlur stdDeviation="0.5"/></filter></defs><rect width="66" height="41" fill="url(#skyG)"/><g filter="url(#bl3)"><path d="M0 22 Q20 18 40 22 Q55 20 66 21 V41 H0 Z" fill="#bfc5c8"/><path d="M0 30 Q30 26 66 31 V41 H0 Z" fill="#a9b0b2"/><path d="M0 14 Q20 12 40 15 Q20 17 0 16 Z" fill="#e0e6e8" opacity="0.7"/><path d="M12 27.5 Q24 24 40 20" stroke="#f0f2f2" stroke-width="2.2" fill="none" opacity="0.85"/></g><path d="M17 22.8 Q22 20 28 17.5 L36 16.5 L48 14.5 L57 4.5 Q61.5 3.5 61.5 6.5 L60 13.5 L64.5 14.8 L63 17 L55 18 L49 20.5 L40 21.5 Q28 22.5 17 22.8 Z" fill="#161a1c"/><path d="M28 17.5 L42 16 L49 20 L36 21.5 Z" fill="#0e1012"/><path d="M4.5 28.6 L11.5 27.2" stroke="#2e3234" stroke-width="2"/></svg>
<svg x="294.2" y="537" width="65.8" height="39.7" viewBox="0 0 66 40" preserveAspectRatio="none"><defs><filter id="bl1" x="-5%" y="-5%" width="110%" height="110%"><feGaussianBlur stdDeviation="0.9"/></filter></defs><rect width="66" height="40" fill="#36592a"/><g filter="url(#bl1)"><polygon points="11,-2 40,-2 40,6 32,10 16,10 11,5" fill="#9fc8e6"/><ellipse cx="5" cy="12" rx="10" ry="15" fill="#1e3c1a"/><ellipse cx="52" cy="9" rx="16" ry="11" fill="#4a7a34"/><ellipse cx="60" cy="22" rx="8" ry="9" fill="#2c5024"/><ellipse cx="26" cy="18" rx="12" ry="7" fill="#4e7c36"/><ellipse cx="40" cy="20" rx="7" ry="8" fill="#385e2c"/><ellipse cx="8" cy="32" rx="10" ry="9" fill="#a6c04a"/><ellipse cx="18" cy="36" rx="8" ry="5" fill="#94b440"/><ellipse cx="27" cy="29" rx="7" ry="6" fill="#5a883a"/><rect x="22" y="37" width="46" height="5" fill="#2e3a30"/><ellipse cx="45" cy="31" rx="7" ry="4.5" fill="#1e2220"/><ellipse cx="41" cy="30.5" rx="2.8" ry="2" fill="#e0e0da"/><ellipse cx="54" cy="31" rx="2" ry="2" fill="#d0d0c8"/></g></svg>
<svg x="361.3" y="537.1" width="66.6" height="39.9" viewBox="0 0 66 40" preserveAspectRatio="none"><defs><filter id="bl2" x="-5%" y="-5%" width="110%" height="110%"><feGaussianBlur stdDeviation="0.9"/></filter></defs><rect width="66" height="40" fill="#2f4e24"/><g filter="url(#bl2)"><polygon points="-2,-2 48,-2 46,4 30,4 18,8 12,14 -2,16" fill="#bcd4dc"/><ellipse cx="28" cy="12" rx="12" ry="9" fill="#5e8e3e"/><ellipse cx="46" cy="10" rx="10" ry="9" fill="#3e6a2e"/><ellipse cx="14" cy="20" rx="8" ry="6" fill="#9cba58"/><ellipse cx="24" cy="21" rx="5" ry="4" fill="#a8c468"/><ellipse cx="52" cy="17" rx="7" ry="5" fill="#8aa890"/><ellipse cx="60" cy="8" rx="7" ry="9" fill="#4a7236"/><ellipse cx="10" cy="30" rx="10" ry="8" fill="#2a4a20"/><ellipse cx="34" cy="30" rx="14" ry="8" fill="#335626"/><ellipse cx="58" cy="30" rx="9" ry="9" fill="#3c6430"/><ellipse cx="9" cy="25" rx="3" ry="2.5" fill="#c8d4b0"/></g></svg>
<rect x="360" y="492.6" width="1.5" height="85.8" fill="#0b0b0b"/><rect x="293" y="535.2" width="136" height="1.8" fill="#0b0b0b"/>
<polygon points="510,560 527.7,559 527.7,576 510,575.5" fill="#262626"/>
<polygon points="527.7,503 540.8,498.6 566.3,501 566.3,575.8 540.8,576 527.7,576" fill="#1b1b1b"/>
<polygon points="540.8,498.6 566.3,501 566.3,575.8 540.8,576" fill="#141414"/>
<rect x="541.5" y="501.5" width="24" height="35" fill="#242424"/>
<rect x="541" y="536.6" width="25.3" height="1" fill="#4a4a4a"/>
<rect x="549.5" y="539.8" width="6" height="1.8" fill="#b0b0b0"/>
<rect x="545" y="545" width="21" height="0.8" fill="#555"/>
<circle cx="554.6" cy="551.2" r="1.6" fill="#cfcfcf"/>
<rect x="542" y="564.3" width="24" height="4.3" fill="#0a0a0a"/><rect x="542" y="564.3" width="24" height="0.8" fill="#444"/>
<polygon points="441.4,494.8 526.7,494.1 525.1,558.8 435.3,554.2" fill="#9a9a9a"/>
<polygon points="442.2,495.8 525.7,495.1 524.2,557.8 436.4,553.3" fill="#141414"/>
<polygon points="443.6,497.6 524,497 522.8,555.2 438.6,551.3" fill="#020202"/>
<polygon points="443.6,497.6 524,497 523.5,528.8 442.3,510.6" fill="url(#scrG)"/>
<rect x="472.5" y="553.6" width="5" height="1.6" fill="#aaa"/>
<polygon points="474.9,558.2 493.2,559 493.2,570.2 474.9,570.2" fill="#1d1d1d"/>
<ellipse cx="481" cy="572.8" rx="22.2" ry="5" fill="#161616"/><ellipse cx="481" cy="571.4" rx="20" ry="3.4" fill="#2c2c2c"/>
<g fill="#222" stroke="#222" stroke-width="0.12">
<text x="211.98" y="41.20" font-size="10.4" textLength="55.04" lengthAdjust="spacingAndGlyphs">IP 高清球机</text>
<text x="437.14" y="39.30" font-size="10.4" textLength="65.14" lengthAdjust="spacingAndGlyphs">IP 高清摄像机</text>
<text x="319.81" y="78.70" font-size="10.4" textLength="21.24" lengthAdjust="spacingAndGlyphs">网线</text>
<text x="94.14" y="92.00" font-size="10.4" textLength="67.09" lengthAdjust="spacingAndGlyphs">光纤 IP 摄像机</text>
<text x="68.17" y="191.80" font-size="10.4" textLength="42.47" lengthAdjust="spacingAndGlyphs">百兆光纤</text>
<text x="174.76" y="191.80" font-size="10.4" textLength="41.07" lengthAdjust="spacingAndGlyphs">百兆光纤</text>
<text x="269.17" y="173.20" font-size="10.4" textLength="73.44" lengthAdjust="spacingAndGlyphs">支持 2/4/6/7 路</text>
<text x="284.28" y="184.24" font-size="10.4" textLength="39.03" lengthAdjust="spacingAndGlyphs">POE 供电</text>
<text x="299.00" y="211.20" font-size="10.4" textLength="41.43" lengthAdjust="spacingAndGlyphs">百兆光纤</text>
<text x="426.38" y="166.20" font-size="10.4" textLength="41.84" lengthAdjust="spacingAndGlyphs">千兆光纤</text>
<text x="623.37" y="147.10" font-size="10.4" textLength="51.28" lengthAdjust="spacingAndGlyphs">光纤收发器</text>
<text x="609.67" y="163.70" font-size="10.4" textLength="79.06" lengthAdjust="spacingAndGlyphs">（传至分控室）</text>
<text x="67.00" y="346.40" font-size="10.4" textLength="42.24" lengthAdjust="spacingAndGlyphs">百兆光纤</text>
<text x="172.17" y="344.90" font-size="10.4" textLength="41.07" lengthAdjust="spacingAndGlyphs">百兆光纤</text>
<text x="371.50" y="331.80" font-size="10.4" textLength="22.16" lengthAdjust="spacingAndGlyphs">网线</text>
<text x="501.23" y="374.90" font-size="10.4" textLength="21.93" lengthAdjust="spacingAndGlyphs">网线</text>
<text x="110.16" y="463.30" font-size="10.4" textLength="58.16" lengthAdjust="spacingAndGlyphs">光纤 IP 球机</text>
<text x="163.53" y="500.30" font-size="10.4" textLength="52.89" lengthAdjust="spacingAndGlyphs">光纤收发器</text>
<text x="226.27" y="527.20" font-size="10.4" textLength="23.03" lengthAdjust="spacingAndGlyphs">网线</text>
<text x="192.14" y="578.40" font-size="10.4" textLength="65.14" lengthAdjust="spacingAndGlyphs">IP 高清摄像机</text>
<text x="341.86" y="470.30" font-size="10.4" textLength="21.83" lengthAdjust="spacingAndGlyphs">网线</text>
<text x="386.52" y="414.60" font-size="10.4" textLength="15.91" lengthAdjust="spacingAndGlyphs"><tspan font-weight="bold">NVR</tspan></text>
<text x="349.66" y="599.80" font-size="10.4" textLength="32.58" lengthAdjust="spacingAndGlyphs">电视墙</text>
<text x="478.15" y="603.20" font-size="10.4" textLength="53.26" lengthAdjust="spacingAndGlyphs">监控客户端</text>
</g>
</svg></body></html>
